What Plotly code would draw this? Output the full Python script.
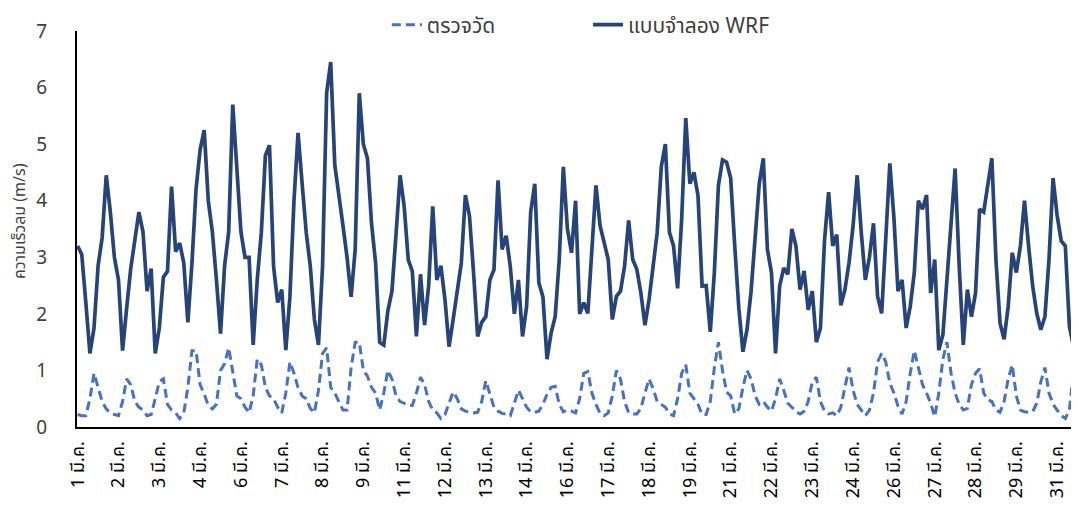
import plotly.graph_objects as go

# hour index since 1 March 00:00 (3-hourly readings)
hours = list(range(0, 744, 3))

# WRF model wind speed (m/s)
wrf_speed = [
    3.2, 3.05, 2.2, 1.3, 1.75, 2.85, 3.35, 4.45,
    3.8, 3.0, 2.6, 1.35, 2.1, 2.8, 3.3, 3.8,
    3.45, 2.4, 2.8, 1.3, 1.75, 2.65, 2.75, 4.25,
    3.1, 3.25, 2.9, 1.85, 2.9, 4.2, 4.9, 5.25,
    4.0, 3.45, 2.6, 1.65, 2.85, 3.45, 5.7, 4.5,
    3.45, 3.0, 3.0, 1.45, 2.6, 3.44, 4.8, 4.98,
    2.84, 2.2, 2.43, 1.36, 2.3, 4.0, 5.2, 4.3,
    3.44, 2.84, 1.9, 1.45, 2.84, 5.9, 6.45, 4.63,
    4.15, 3.56, 3.0, 2.3, 3.14, 5.9, 5.0, 4.75,
    3.6, 2.9, 1.5, 1.45, 2.05, 2.4, 3.4, 4.45,
    3.9, 2.96, 2.75, 1.6, 2.7, 1.8, 2.5, 3.9,
    2.6, 2.85, 2.25, 1.42, 1.9, 2.45, 2.9, 4.1,
    3.73, 2.73, 1.6, 1.85, 1.95, 2.6, 2.78, 4.36,
    3.14, 3.38, 2.84, 2.0, 2.6, 1.6, 2.13, 3.8,
    4.3, 2.55, 2.3, 1.2, 1.66, 1.95, 2.96, 4.6,
    3.5, 3.08, 4.0, 2.0, 2.2, 2.01, 3.2, 4.27,
    3.56, 3.26, 2.96, 1.9, 2.31, 2.4, 2.84, 3.65,
    2.96, 2.79, 2.37, 1.8, 2.25, 2.84, 3.44, 4.6,
    5.0, 3.44, 3.2, 2.45, 3.68, 5.46, 4.3, 4.5,
    4.09, 2.49, 2.5, 1.68, 2.73, 4.27, 4.72, 4.68,
    4.4, 3.2, 2.1, 1.33, 1.72, 2.4, 3.4, 4.3,
    4.75, 3.14, 2.73, 1.3, 2.49, 2.81, 2.7, 3.5,
    3.2, 2.43, 2.76, 2.07, 2.4, 1.5, 1.75, 3.3,
    4.15, 3.2, 3.4, 2.15, 2.43, 2.9, 3.56, 4.45,
    3.44, 2.6, 3.0, 3.6, 2.31, 2.01, 3.32, 4.66,
    3.7, 2.4, 2.6, 1.75, 2.13, 2.73, 4.0, 3.85,
    4.1, 2.37, 2.96, 1.36, 1.63, 2.64, 3.74, 4.57,
    2.84, 1.45, 2.43, 1.95, 2.37, 3.85, 3.8, 4.33,
    4.75, 2.96, 1.84, 1.55, 2.13, 3.08, 2.73, 3.2,
    4.0, 3.2, 2.49, 2.01, 1.72, 1.95, 2.96, 4.4,
    3.74, 3.29, 3.2, 1.78, 1.42, 2.96, 3.2, 3.1,
]

# observed wind speed (m/s)
observed_speed = [
    0.22, 0.2, 0.2, 0.5, 0.95, 0.72, 0.45, 0.32,
    0.25, 0.22, 0.2, 0.45, 0.85, 0.75, 0.45, 0.35,
    0.3, 0.2, 0.22, 0.5, 0.8, 0.85, 0.4, 0.3,
    0.25, 0.15, 0.25, 0.7, 1.35, 1.35, 0.75, 0.58,
    0.38, 0.32, 0.4, 1.0, 1.12, 1.4, 0.95, 0.55,
    0.5, 0.35, 0.25, 0.55, 1.2, 1.1, 0.7, 0.55,
    0.5, 0.35, 0.25, 0.6, 1.15, 0.95, 0.7, 0.55,
    0.5, 0.33, 0.25, 0.65, 1.3, 1.4, 0.7, 0.6,
    0.45, 0.3, 0.3, 1.05, 1.5, 1.5, 1.0, 0.9,
    0.7, 0.6, 0.3, 0.6, 1.0, 0.85, 0.55, 0.45,
    0.42, 0.38, 0.38, 0.6, 0.88, 0.75, 0.45, 0.3,
    0.25, 0.15, 0.22, 0.42, 0.62, 0.5, 0.32, 0.28,
    0.27, 0.25, 0.26, 0.45, 0.82, 0.6, 0.35, 0.28,
    0.24, 0.23, 0.2, 0.42, 0.65, 0.5, 0.35, 0.27,
    0.26, 0.28, 0.4, 0.58, 0.7, 0.72, 0.4, 0.27,
    0.3, 0.28, 0.25, 0.5, 0.95, 0.98, 0.6, 0.4,
    0.24, 0.2, 0.25, 0.55, 1.0, 0.85, 0.45, 0.25,
    0.23, 0.23, 0.33, 0.6, 0.85, 0.68, 0.45, 0.4,
    0.35, 0.23, 0.2, 0.5, 0.95, 1.1, 0.6, 0.5,
    0.4, 0.22, 0.22, 0.45, 1.05, 1.5, 1.0, 0.62,
    0.55, 0.23, 0.32, 0.7, 1.0, 0.85, 0.55, 0.4,
    0.45, 0.35, 0.28, 0.5, 0.85, 0.65, 0.42, 0.35,
    0.27, 0.23, 0.28, 0.45, 0.8, 0.88, 0.45, 0.28,
    0.23, 0.25, 0.2, 0.35, 0.7, 1.05, 0.65, 0.4,
    0.3, 0.2, 0.3, 0.6, 1.15, 1.3, 1.15, 0.78,
    0.6, 0.37, 0.23, 0.45, 0.95, 1.35, 1.05, 0.75,
    0.6, 0.42, 0.18, 0.6, 1.2, 1.5, 0.95, 0.6,
    0.4, 0.3, 0.33, 0.75, 0.95, 1.03, 0.6, 0.48,
    0.45, 0.3, 0.26, 0.45, 0.85, 1.1, 0.55, 0.3,
    0.27, 0.26, 0.27, 0.42, 0.8, 1.05, 0.6, 0.4,
    0.3, 0.2, 0.15, 0.3, 1.0, 1.4, 1.5, 1.2,
]

tick_hours = list(range(0, 721, 30))
tick_labels = [
    "1 มี.ค.", "2 มี.ค.", "3 มี.ค.", "4 มี.ค.", "6 มี.ค.", "7 มี.ค.", "8 มี.ค.",
    "9 มี.ค.", "11 มี.ค.", "12 มี.ค.", "13 มี.ค.", "14 มี.ค.", "16 มี.ค.",
    "17 มี.ค.", "18 มี.ค.", "19 มี.ค.", "21 มี.ค.", "22 มี.ค.", "23 มี.ค.",
    "24 มี.ค.", "26 มี.ค.", "27 มี.ค.", "28 มี.ค.", "29 มี.ค.", "31 มี.ค.",
]

FONT = "Tahoma, Noto Sans Thai, DejaVu Sans, sans-serif"

fig = go.Figure()
fig.add_trace(go.Scatter(
    x=hours, y=observed_speed, mode="lines", name="ตรวจวัด", legend="legend",
    line=dict(color="#4472C4", width=3, dash="9px,5px"),
))
fig.add_trace(go.Scatter(
    x=hours, y=wrf_speed, mode="lines", name="แบบจำลอง WRF", legend="legend2",
    line=dict(color="#264478", width=3.7),
))

legend_style = dict(orientation="h", xanchor="left", y=1.015, yanchor="middle",
                    font=dict(size=21, color="#404040"), bgcolor="rgba(0,0,0,0)")

# the page body adds an 8px offset, so margins are shifted to compensate
fig.update_layout(
    width=1079, height=505,
    margin=dict(l=69, r=4, t=23, b=86, autoexpand=False),
    paper_bgcolor="white", plot_bgcolor="white",
    font=dict(family=FONT, color="#404040"),
    showlegend=True,
    legend=dict(x=0.308, **legend_style),
    legend2=dict(x=0.508, **legend_style),
    xaxis=dict(
        range=[-0.5, 739], tickmode="array", tickvals=tick_hours, ticktext=tick_labels,
        tickangle=-90, tickfont=dict(size=18, color="#000000"), showgrid=False,
        showline=True, linecolor="#000000", linewidth=2, ticks="", zeroline=False,
        automargin=False, ticklabelstandoff=5,
    ),
    yaxis=dict(
        range=[0, 7], dtick=1, tickfont=dict(size=19, color="#404040"), showgrid=False,
        showline=True, linecolor="#000000", linewidth=2, ticks="", zeroline=False,
        automargin=False, ticklabelstandoff=24,
    ),
    annotations=[dict(
        text="ความเร็วลม (m/s)", textangle=-90, xref="paper", yref="paper",
        x=(12 - 69) / 1006, y=0.52, xanchor="center", yanchor="middle",
        showarrow=False, font=dict(size=16, color="#404040"),
    )],
)

fig.write_html("out.html")
